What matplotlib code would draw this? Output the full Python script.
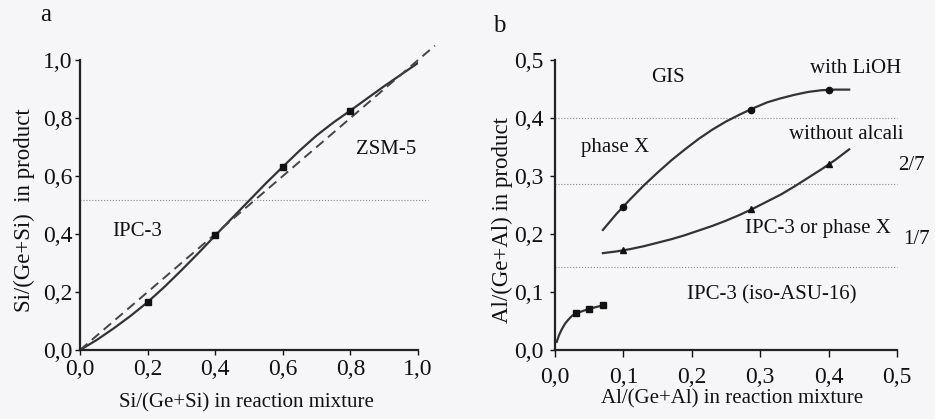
import matplotlib
matplotlib.use('Agg')
import matplotlib.pyplot as plt
from matplotlib.ticker import FuncFormatter

plt.rcParams['font.family'] = ['Liberation Serif', 'DejaVu Serif']

# panel a - measured points
a_x = [0.2, 0.4, 0.6, 0.8]
a_y = [0.167, 0.397, 0.632, 0.824]
# panel a - smooth curve
a_curve_x = [0.0, 0.05, 0.1, 0.15, 0.2, 0.25, 0.3, 0.35, 0.4, 0.45, 0.5,
             0.55, 0.6, 0.65, 0.7, 0.75, 0.8, 0.85, 0.9, 0.95, 1.0]
a_curve_y = [0.0, 0.035, 0.075, 0.118, 0.165, 0.218, 0.275, 0.334, 0.395, 0.455, 0.515,
             0.575, 0.632, 0.688, 0.74, 0.785, 0.826, 0.868, 0.91, 0.95, 0.99]
a_diag = [0.0, 1.05]
a_boundary = 0.517

# panel b - with LiOH (circles)
lioh_x = [0.1, 0.286, 0.4]
lioh_y = [0.247, 0.414, 0.448]
lioh_curve_x = [0.07, 0.09, 0.11, 0.13, 0.15, 0.17, 0.19, 0.21, 0.23, 0.25,
                0.27, 0.29, 0.31, 0.33, 0.35, 0.37, 0.39, 0.41, 0.43]
lioh_curve_y = [0.207, 0.235, 0.26, 0.284, 0.306, 0.327, 0.346, 0.364, 0.38, 0.394,
                0.406, 0.417, 0.427, 0.434, 0.44, 0.445, 0.448, 0.449, 0.449]
# panel b - without alcali (triangles)
noalc_x = [0.1, 0.286, 0.4]
noalc_y = [0.172, 0.2425, 0.32]
noalc_curve_x = lioh_curve_x
noalc_curve_y = [0.167, 0.17, 0.174, 0.179, 0.185, 0.191, 0.198, 0.206, 0.214, 0.223,
                 0.233, 0.244, 0.256, 0.268, 0.282, 0.297, 0.312, 0.328, 0.346]
# panel b - low Al (squares)
low_x = [0.03, 0.05, 0.07]
low_y = [0.063, 0.071, 0.077]
low_curve_x = [0.0025, 0.006, 0.01, 0.015, 0.02, 0.025, 0.03, 0.04, 0.05, 0.06, 0.07]
low_curve_y = [0.014, 0.026, 0.036, 0.046, 0.053, 0.059, 0.063, 0.067, 0.071, 0.074, 0.077]
b_levels = [0.4, 2 / 7, 1 / 7]

bg = '#f6f6f8'
ink = '#111111'
fig = plt.figure(figsize=(9.35, 4.19), dpi=100, facecolor=bg)
ax1 = fig.add_axes([0.0856, 0.1647, 0.3615, 0.692])
ax2 = fig.add_axes([0.5936, 0.1647, 0.3658, 0.692])

comma = FuncFormatter(lambda v, p: ('%.1f' % v).replace('.', ','))

for ax in (ax1, ax2):
    ax.set_facecolor(bg)
    ax.spines['top'].set_visible(False)
    ax.spines['right'].set_visible(False)
    ax.spines['left'].set_linewidth(1.6)
    ax.spines['bottom'].set_linewidth(1.6)
    ax.spines['left'].set_color('#222222')
    ax.spines['bottom'].set_color('#222222')
    ax.tick_params(direction='out', length=3.5, width=1, labelsize=17, colors=ink)
    ax.xaxis.set_major_formatter(comma)
    ax.yaxis.set_major_formatter(comma)
ax1.tick_params(axis='x', pad=3)
ax1.tick_params(axis='y', pad=2)
ax2.tick_params(axis='x', pad=7, length=5)
ax2.tick_params(axis='y', pad=5)

# panel a
ax1.axhline(a_boundary, xmin=0, xmax=1.03, color='#888888', lw=0.8, ls=':', clip_on=False)
ax1.plot(a_curve_x, a_curve_y, '-', color='#333333', lw=1.6)
ax1.plot(a_diag, a_diag, '--', color='#444444', lw=1.4, dashes=(5, 3), clip_on=False)
ax1.plot(a_x, a_y, 's', color=ink, ms=4.5)
ax1.set_xlim(0, 1.0)
ax1.set_ylim(0, 1.0)
ax1.set_xticks([0, 0.2, 0.4, 0.6, 0.8, 1.0])
ax1.set_yticks([0, 0.2, 0.4, 0.6, 0.8, 1.0])
ax1.set_xlabel('Si/(Ge+Si) in reaction mixture', fontsize=15, color=ink, va='center')
ax1.set_ylabel('Si/(Ge+Si)  in product', fontsize=16.5, color=ink, va='center')
ax1.xaxis.set_label_coords(0.491, -0.183)
ax1.yaxis.set_label_coords(-0.165, 0.483)
ax1.text(0.17, 0.41, 'IPC-3', fontsize=15, ha='center', va='center', color=ink)
ax1.text(0.907, 0.69, 'ZSM-5', fontsize=15, ha='center', va='center', color=ink)
fig.text(0.043, 0.99, 'a', fontsize=18, va='top', color=ink)

# panel b
for lv in b_levels:
    ax2.axhline(lv, xmin=0, xmax=1.0, color='#888888', lw=0.8, ls=':', clip_on=False)
ax2.plot(lioh_curve_x, lioh_curve_y, '-', color='#333333', lw=1.6)
ax2.plot(noalc_curve_x, noalc_curve_y, '-', color='#333333', lw=1.6)
ax2.plot(low_curve_x, low_curve_y, '-', color='#333333', lw=1.6)
ax2.plot(lioh_x, lioh_y, 'o', color=ink, ms=4.5)
ax2.plot(noalc_x, noalc_y, '^', color=ink, ms=5)
ax2.plot(low_x, low_y, 's', color=ink, ms=5)
ax2.set_xlim(0, 0.5)
ax2.set_ylim(0, 0.5)
ax2.set_xticks([0, 0.1, 0.2, 0.3, 0.4, 0.5])
ax2.set_yticks([0, 0.1, 0.2, 0.3, 0.4, 0.5])
ax2.set_xlabel('Al/(Ge+Al) in reaction mixture', fontsize=15, color=ink, va='center')
ax2.set_ylabel('Al/(Ge+Al) in product', fontsize=16.5, color=ink, va='center')
ax2.xaxis.set_label_coords(0.517, -0.17)
ax2.yaxis.set_label_coords(-0.155, 0.448)
ax2.text(0.165, 0.47, 'GIS', fontsize=15, ha='center', va='center', color=ink)
ax2.text(0.439, 0.486, 'with LiOH', fontsize=15, ha='center', va='center', color=ink)
ax2.text(0.088, 0.35, 'phase X', fontsize=15, ha='center', va='center', color=ink)
ax2.text(0.426, 0.371, 'without alcali', fontsize=15, ha='center', va='center', color=ink)
ax2.text(0.385, 0.21, 'IPC-3 or phase X', fontsize=15, ha='center', va='center', color=ink)
ax2.text(0.317, 0.095, 'IPC-3 (iso-ASU-16)', fontsize=15, ha='center', va='center', color=ink)
ax2.text(0.521, 0.319, '2/7', fontsize=15, ha='center', va='center', clip_on=False, color=ink)
ax2.text(0.529, 0.19, '1/7', fontsize=15, ha='center', va='center', clip_on=False, color=ink)
fig.text(0.527, 0.965, 'b', fontsize=18, va='top', color=ink)

fig.savefig('out.png', dpi=100, facecolor=bg)
